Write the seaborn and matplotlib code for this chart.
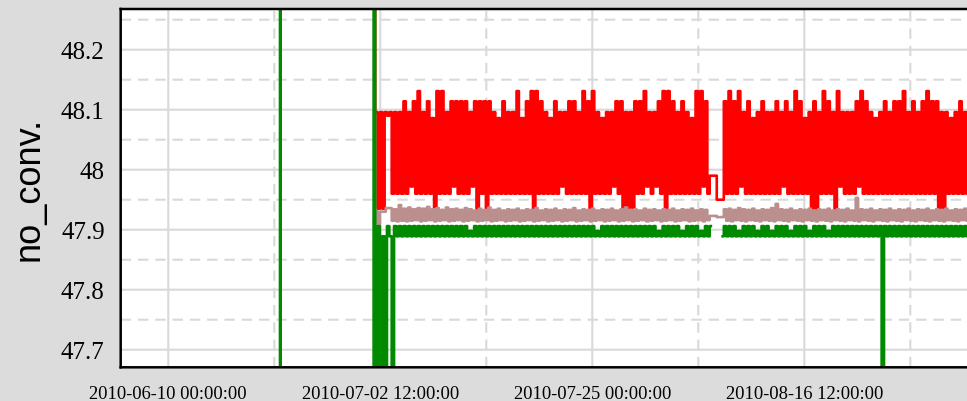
import numpy as np
import pandas as pd
import matplotlib
matplotlib.use("Agg")
import matplotlib.pyplot as plt
import matplotlib.dates as mdates
from matplotlib.ticker import FixedLocator, FixedFormatter
import seaborn as sns

nan = np.nan

# ---------------- data ----------------
log_start = "2010-07-01 20:00"   # first logged sample of the dense record
log_step = "6h"

red_values = [
    48.5, 48.096, 47.935, 48.096, 47.935, 48.096, 48.09, 48.096, 47.96, 48.096,
    47.96, 48.096, 47.96, 48.114, 47.96, 48.096, 47.972, 48.114, 47.96, 48.131,
    47.96, 48.096, 47.96, 48.114, 47.96, 48.086, 47.935, 48.131, 47.96, 48.131,
    47.96, 48.096, 47.96, 48.114, 47.972, 48.114, 47.96, 48.114, 47.96, 48.114,
    47.96, 48.096, 47.972, 48.114, 47.935, 48.114, 47.96, 48.114, 47.935, 48.114,
    47.96, 48.096, 47.96, 48.086, 47.96, 48.114, 47.96, 48.096, 47.96, 48.096,
    47.96, 48.131, 47.96, 48.086, 47.96, 48.114, 47.96, 48.131, 47.935, 48.131,
    47.96, 48.114, 47.96, 48.096, 47.96, 48.086, 47.96, 48.114, 47.96, 48.096,
    47.972, 48.096, 47.96, 48.114, 47.96, 48.114, 47.96, 48.096, 47.96, 48.131,
    47.96, 48.114, 47.935, 48.131, 47.96, 48.096, 47.96, 48.086, 47.96, 48.096,
    47.96, 48.096, 47.972, 48.114, 47.96, 48.114, 47.935, 48.096, 47.935, 48.096,
    47.935, 48.114, 47.96, 48.114, 47.96, 48.131, 47.972, 48.096, 47.96, 48.096,
    47.972, 48.114, 47.96, 48.131, 47.935, 48.131, 47.96, 48.114, 47.96, 48.096,
    47.96, 48.114, 47.96, 48.096, 47.96, 48.086, 47.96, 48.131, 47.96, 48.131,
    47.972, 48.114, 47.96, 47.99, nan, nan, nan, nan, 47.95, 48.114,
    47.96, 48.131, 47.96, 48.114, 47.96, 48.131, 47.972, 48.096, 47.96, 48.114,
    47.96, 48.086, 47.96, 48.096, 47.96, 48.114, 47.96, 48.096, 47.96, 48.096,
    47.96, 48.114, 47.96, 48.096, 47.972, 48.114, 47.96, 48.096, 47.96, 48.131,
    47.96, 48.114, 47.96, 48.086, 47.96, 48.096, 47.935, 48.114, 47.935, 48.096,
    47.96, 48.131, 47.96, 48.114, 47.96, 48.096, 47.935, 48.131, 47.972, 48.096,
    47.96, 48.096, 47.96, 48.096, 47.96, 48.114, 47.972, 48.131, 47.96, 48.114,
    47.96, 48.096, 47.96, 48.086, 47.96, 48.096, 47.96, 48.114, 47.96, 48.096,
    47.96, 48.114, 47.96, 48.114, 47.96, 48.131, 47.96, 48.096, 47.96, 48.114,
    47.96, 48.096, 47.96, 48.114, 47.96, 48.131, 47.96, 48.114, 47.96, 48.114,
    47.935, 48.096, 47.935, 48.096, 47.96, 48.086, 47.96, 48.096, 47.96, 48.114,
    47.96, 48.096, 47.96, 48.096, 47.96, 48.096,
]

brown_values = [
    47.911, 47.931, 47.909, 47.930, nan, nan, nan, 47.936, 47.915, 47.934,
    47.914, 47.941, 47.915, 47.935, 47.914, 47.937, 47.915, 47.934, 47.916, 47.936,
    47.914, 47.935, 47.915, 47.938, 47.916, 47.934, 47.914, 47.936, 47.915, 47.933,
    47.916, 47.937, 47.914, 47.934, 47.915, 47.935, 47.916, 47.933, 47.914, 47.936,
    47.915, 47.934, 47.916, 47.932, 47.914, 47.935, 47.915, 47.933, 47.916, 47.937,
    47.914, 47.933, 47.915, 47.935, 47.916, 47.932, 47.914, 47.934, 47.915, 47.933,
    47.916, 47.935, 47.914, 47.932, 47.915, 47.934, 47.916, 47.933, 47.914, 47.936,
    47.915, 47.932, 47.916, 47.934, 47.914, 47.933, 47.915, 47.935, 47.916, 47.932,
    47.914, 47.934, 47.915, 47.933, 47.916, 47.936, 47.914, 47.932, 47.915, 47.934,
    47.916, 47.933, 47.914, 47.935, 47.915, 47.932, 47.916, 47.934, 47.914, 47.933,
    47.915, 47.935, 47.916, 47.932, 47.914, 47.934, 47.915, 47.937, 47.916, 47.933,
    47.914, 47.934, 47.915, 47.932, 47.916, 47.935, 47.914, 47.933, 47.915, 47.934,
    47.916, 47.932, 47.914, 47.934, 47.915, 47.933, 47.916, 47.935, 47.914, 47.932,
    47.915, 47.934, 47.916, 47.933, 47.914, 47.935, 47.915, 47.932, 47.916, 47.934,
    47.914, 47.933, 47.916, 47.923, nan, nan, nan, nan, 47.921, 47.934,
    47.915, 47.935, 47.914, 47.933, 47.916, 47.936, 47.915, 47.934, 47.914, 47.933,
    47.916, 47.935, 47.915, 47.932, 47.914, 47.934, 47.916, 47.933, 47.915, 47.936,
    47.914, 47.943, 47.916, 47.934, 47.915, 47.933, 47.914, 47.935, 47.916, 47.932,
    47.915, 47.934, 47.914, 47.933, 47.916, 47.935, 47.915, 47.932, 47.914, 47.934,
    47.916, 47.933, 47.915, 47.935, 47.914, 47.932, 47.916, 47.934, 47.915, 47.933,
    47.914, 47.935, 47.916, 47.932, 47.915, 47.953, 47.914, 47.934, 47.916, 47.933,
    47.915, 47.935, 47.914, 47.932, 47.916, 47.934, 47.915, 47.933, 47.914, 47.935,
    47.916, 47.932, 47.915, 47.934, 47.914, 47.933, 47.916, 47.935, 47.915, 47.932,
    47.914, 47.934, 47.916, 47.933, 47.915, 47.935, 47.914, 47.932, 47.916, 47.934,
    47.915, 47.933, 47.914, 47.935, 47.916, 47.932, 47.915, 47.934, 47.914, 47.933,
    47.916, 47.935, 47.915, 47.932, 47.914, 47.934,
]

green_values = [
    49.0, 47.0, 47.906, 47.0, 47.889, 47.0, 47.906, 47.889, 47.0, 47.906,
    47.889, 47.906, 47.889, 47.906, 47.889, 47.906, 47.889, 47.906, 47.889, 47.906,
    47.889, 47.906, 47.889, 47.906, 47.889, 47.906, 47.889, 47.906, 47.889, 47.906,
    47.889, 47.906, 47.889, 47.906, 47.889, 47.906, 47.889, 47.906, 47.889, 47.906,
    47.889, 47.898, 47.889, 47.906, 47.889, 47.906, 47.889, 47.906, 47.889, 47.906,
    47.889, 47.906, 47.889, 47.906, 47.889, 47.906, 47.889, 47.906, 47.889, 47.906,
    47.889, 47.906, 47.889, 47.906, 47.889, 47.906, 47.889, 47.906, 47.889, 47.906,
    47.889, 47.906, 47.889, 47.906, 47.889, 47.906, 47.889, 47.906, 47.889, 47.906,
    47.889, 47.906, 47.889, 47.906, 47.889, 47.906, 47.889, 47.906, 47.889, 47.906,
    47.889, 47.906, 47.889, 47.906, 47.889, 47.898, 47.889, 47.906, 47.889, 47.906,
    47.889, 47.906, 47.889, 47.906, 47.889, 47.906, 47.889, 47.906, 47.889, 47.906,
    47.889, 47.906, 47.889, 47.906, 47.889, 47.906, 47.889, 47.906, 47.889, 47.906,
    47.889, 47.898, 47.889, 47.906, 47.889, 47.906, 47.889, 47.906, 47.889, 47.906,
    47.889, 47.898, 47.889, 47.906, 47.889, 47.906, 47.889, 47.906, 47.889, 47.898,
    47.889, 47.906, 47.889, 47.906, nan, nan, nan, nan, 47.889, 47.906,
    47.889, 47.906, 47.889, 47.906, 47.889, 47.898, 47.889, 47.906, 47.889, 47.906,
    47.889, 47.906, 47.889, 47.898, 47.889, 47.906, 47.889, 47.906, 47.889, 47.898,
    47.889, 47.906, 47.889, 47.906, 47.889, 47.906, 47.889, 47.898, 47.889, 47.906,
    47.889, 47.906, 47.889, 47.906, 47.889, 47.898, 47.889, 47.906, 47.889, 47.906,
    47.889, 47.906, 47.889, 47.898, 47.889, 47.906, 47.889, 47.906, 47.889, 47.906,
    47.889, 47.906, 47.889, 47.906, 47.889, 47.906, 47.889, 47.906, 47.889, 47.906,
    47.889, 47.906, 47.889, 47.906, 47.889, 47.906, 47.0, 47.906, 47.889, 47.906,
    47.889, 47.906, 47.889, 47.906, 47.889, 47.906, 47.889, 47.906, 47.889, 47.906,
    47.889, 47.906, 47.889, 47.906, 47.889, 47.906, 47.889, 47.906, 47.889, 47.906,
    47.889, 47.906, 47.889, 47.906, 47.889, 47.906, 47.889, 47.906, 47.889, 47.906,
    47.889, 47.906, 47.889, 47.906, 47.889, 47.906,
]

# isolated early green readings (before the dense record)
green_pre_times = ["2010-06-21 20:00", "2010-06-21 21:00", "2010-06-21 22:00", "2010-07-01 18:00"]
green_pre_values = [47.0, 49.0, 47.0, 47.0]

series_names = ["red", "rosybrown", "green"]
series_colors = {"red": "#ff0000", "rosybrown": "#bc8f8f", "green": "#008a00"}

x_major_labels = ["2010-06-10 00:00:00", "2010-07-02 12:00:00",
                  "2010-07-25 00:00:00", "2010-08-16 12:00:00"]
x_minor_dates = ["2010-06-21 06:00:00", "2010-07-13 18:00:00",
                 "2010-08-05 06:00:00", "2010-08-27 18:00:00"]
y_major = [47.7, 47.8, 47.9, 48.0, 48.1, 48.2]
y_major_labels = ["47.7", "47.8", "47.9", "48", "48.1", "48.2"]
y_minor = [47.75, 47.85, 47.95, 48.05, 48.15, 48.25]
x_range = ["2010-06-04 22:45", "2010-09-03 14:47"]
y_range = [47.6707, 48.2678]
y_label = "no_conv."

# ---------------- table ----------------
times = pd.date_range(log_start, periods=len(red_values), freq=log_step)
frames = []
for name, vals in zip(series_names, [red_values, brown_values, green_values]):
    d = pd.DataFrame({"time": times, "value": vals, "series": name})
    if name == "green":
        pre = pd.DataFrame({"time": pd.to_datetime(green_pre_times),
                            "value": green_pre_values, "series": name})
        d = pd.concat([pre, d], ignore_index=True)
        d["segment"] = name + d["value"].isna().cumsum().astype(str)
    else:
        d["segment"] = name
    frames.append(d.dropna(subset=["value"]))
df = pd.concat(frames, ignore_index=True)

# ---------------- figure ----------------
plt.rcParams["font.family"] = ["Liberation Serif", "DejaVu Serif"]
plt.rcParams["path.snap"] = False
plt.rcParams["path.simplify"] = False
fig = plt.figure(figsize=(9.67, 4.02), dpi=100, facecolor="#dcdcdc")
ax = fig.add_axes([120.7 / 967, 33.7 / 402, 854.3 / 967, 358.3 / 402])
ax.set_facecolor("white")

sns.lineplot(data=df, x="time", y="value", hue="series", units="segment",
             estimator=None, hue_order=series_names, palette=series_colors,
             linewidth=1.9, drawstyle="steps-mid", legend=False, ax=ax)

ax.set_xlim(pd.Timestamp(x_range[0]), pd.Timestamp(x_range[1]))
ax.set_ylim(*y_range)

major_num = mdates.date2num(pd.to_datetime(x_major_labels).to_pydatetime())
minor_num = mdates.date2num(pd.to_datetime(x_minor_dates).to_pydatetime())
ax.xaxis.set_major_locator(FixedLocator(major_num))
ax.xaxis.set_major_formatter(FixedFormatter(x_major_labels))
ax.xaxis.set_minor_locator(FixedLocator(minor_num))
ax.yaxis.set_major_locator(FixedLocator(y_major))
ax.yaxis.set_major_formatter(FixedFormatter(y_major_labels))
ax.yaxis.set_minor_locator(FixedLocator(y_minor))

ax.set_axisbelow(True)
ax.grid(which="major", color="#d9d9d9", linewidth=1.5, linestyle="-")
ax.grid(which="minor", color="#d9d9d9", linewidth=1.5, linestyle=(0, (5, 3.3)))
ax.tick_params(which="both", length=0)
ax.tick_params(axis="y", pad=11.5, labelsize=18)
ax.tick_params(axis="x", pad=12.5, labelsize=13.3)

for s in ax.spines.values():
    s.set_color("black")
    s.set_linewidth(1.8)

ax.set_xlabel("")
ax.set_ylabel(y_label, fontsize=26, family=["Liberation Sans", "DejaVu Sans"])
ax.yaxis.set_label_coords(-0.087, 0.5)

fig.savefig("out.png", dpi=100, facecolor=fig.get_facecolor())
